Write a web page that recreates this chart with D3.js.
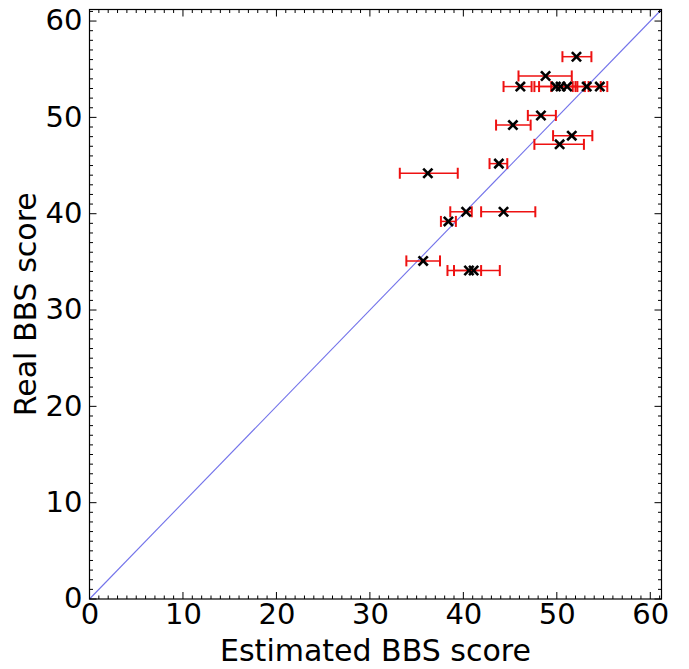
<!DOCTYPE html>
<html><head><meta charset="utf-8">
<script src="https://cdn.jsdelivr.net/npm/d3@7"></script>
<style>body{margin:0;background:#fff}svg{display:block}</style>
</head><body>
<script>
const estimated = [52.1,48.8,46.1,49.9,50.4,51.1,53.2,54.6,48.3,45.3,51.6,50.3,43.8,36.2,40.3,44.3,38.4,35.7,40.6,41.1];
const real      = [56.3,54.3,53.2,53.2,53.2,53.2,53.2,53.2,50.2,49.2,48.1,47.2,45.2,44.2,40.2,40.2,39.2,35.1,34.1,34.1];
const errLow    = [50.6,45.9,44.3,47.6,48.1,49.4,51.7,53.4,46.9,43.5,49.6,47.6,42.8,33.2,38.6,41.9,37.6,33.9,38.3,39.0];
const errHigh   = [53.7,51.6,47.3,52.0,52.2,53.0,54.7,55.4,49.9,47.2,53.8,52.9,44.7,39.4,40.9,47.7,39.2,37.5,41.9,43.9];
const majorTicks = [0,10,20,30,40,50,60];
const axisMax = 61.2;
const xLabel = "Estimated BBS score";
const yLabel = "Real BBS score";

const W = 689, H = 669;
const L = 89.5, R = 661.5, T = 9.5, B = 599;
const svg = d3.select("body").append("svg").attr("width", W).attr("height", H);
const x = d3.scaleLinear().domain([0, axisMax]).range([L, R]);
const y = d3.scaleLinear().domain([0, axisMax]).range([B, T]);
const font = "DejaVu Sans, sans-serif";

// diagonal
svg.append("line").attr("x1", x(0)).attr("y1", y(0)).attr("x2", x(axisMax)).attr("y2", y(axisMax))
  .attr("stroke", "#7373ea").attr("stroke-width", 1.1);

// ticks (inward)
const minor = d3.range(0, Math.floor(axisMax) + 1, 1);
const tg = svg.append("g").attr("stroke", "#000").attr("stroke-width", 1);
minor.forEach(v => {
  const len = v % 10 === 0 ? 7 : 3.5;
  tg.append("line").attr("x1", x(v)).attr("x2", x(v)).attr("y1", B).attr("y2", B - len);
  tg.append("line").attr("x1", x(v)).attr("x2", x(v)).attr("y1", T).attr("y2", T + len);
  tg.append("line").attr("y1", y(v)).attr("y2", y(v)).attr("x1", L).attr("x2", L + len);
  tg.append("line").attr("y1", y(v)).attr("y2", y(v)).attr("x1", R).attr("x2", R - len);
});

// frame
svg.append("rect").attr("x", L).attr("y", T).attr("width", R - L).attr("height", B - T)
  .attr("fill", "none").attr("stroke", "#000").attr("stroke-width", 1.2);

// tick labels via axes
const xAxis = svg.append("g").attr("transform", `translate(0,${B})`)
  .call(d3.axisBottom(x).tickValues(majorTicks).tickSize(0).tickPadding(4).tickFormat(d3.format("d")));
const yAxis = svg.append("g").attr("transform", `translate(${L},0)`)
  .call(d3.axisLeft(y).tickValues(majorTicks).tickSize(0).tickPadding(7).tickFormat(d3.format("d")));
[xAxis, yAxis].forEach(a => {
  a.select(".domain").remove();
  a.selectAll("text").attr("font-family", font).attr("font-size", 29).attr("fill", "#000");
});
yAxis.selectAll("text").attr("dy", "0.3em");
xAxis.selectAll("text").attr("dy", "0.74em");

// axis labels
svg.append("text").attr("x", (L + R) / 2).attr("y", 661).attr("text-anchor", "middle")
  .attr("font-family", font).attr("font-size", 30).text(xLabel);
svg.append("text").attr("transform", `translate(36,${(T + B) / 2}) rotate(-90)`).attr("text-anchor", "middle")
  .attr("font-family", font).attr("font-size", 30).text(yLabel);

// error bars
const eg = svg.append("g").attr("stroke", "#ee1111");
real.forEach((r, i) => {
  eg.append("line").attr("x1", x(errLow[i])).attr("x2", x(errHigh[i])).attr("y1", y(r)).attr("y2", y(r)).attr("stroke-width", 1.5);
  [errLow[i], errHigh[i]].forEach(v => {
    eg.append("line").attr("x1", x(v)).attr("x2", x(v)).attr("y1", y(r) - 5.5).attr("y2", y(r) + 5.5).attr("stroke-width", 2);
  });
});

// x markers
const mg = svg.append("g").attr("stroke", "#000").attr("stroke-width", 2.6);
real.forEach((r, i) => {
  const cx = x(estimated[i]), cy = y(r), s = 4.6;
  mg.append("line").attr("x1", cx - s).attr("y1", cy - s).attr("x2", cx + s).attr("y2", cy + s);
  mg.append("line").attr("x1", cx - s).attr("y1", cy + s).attr("x2", cx + s).attr("y2", cy - s);
});
</script>
</body></html>
